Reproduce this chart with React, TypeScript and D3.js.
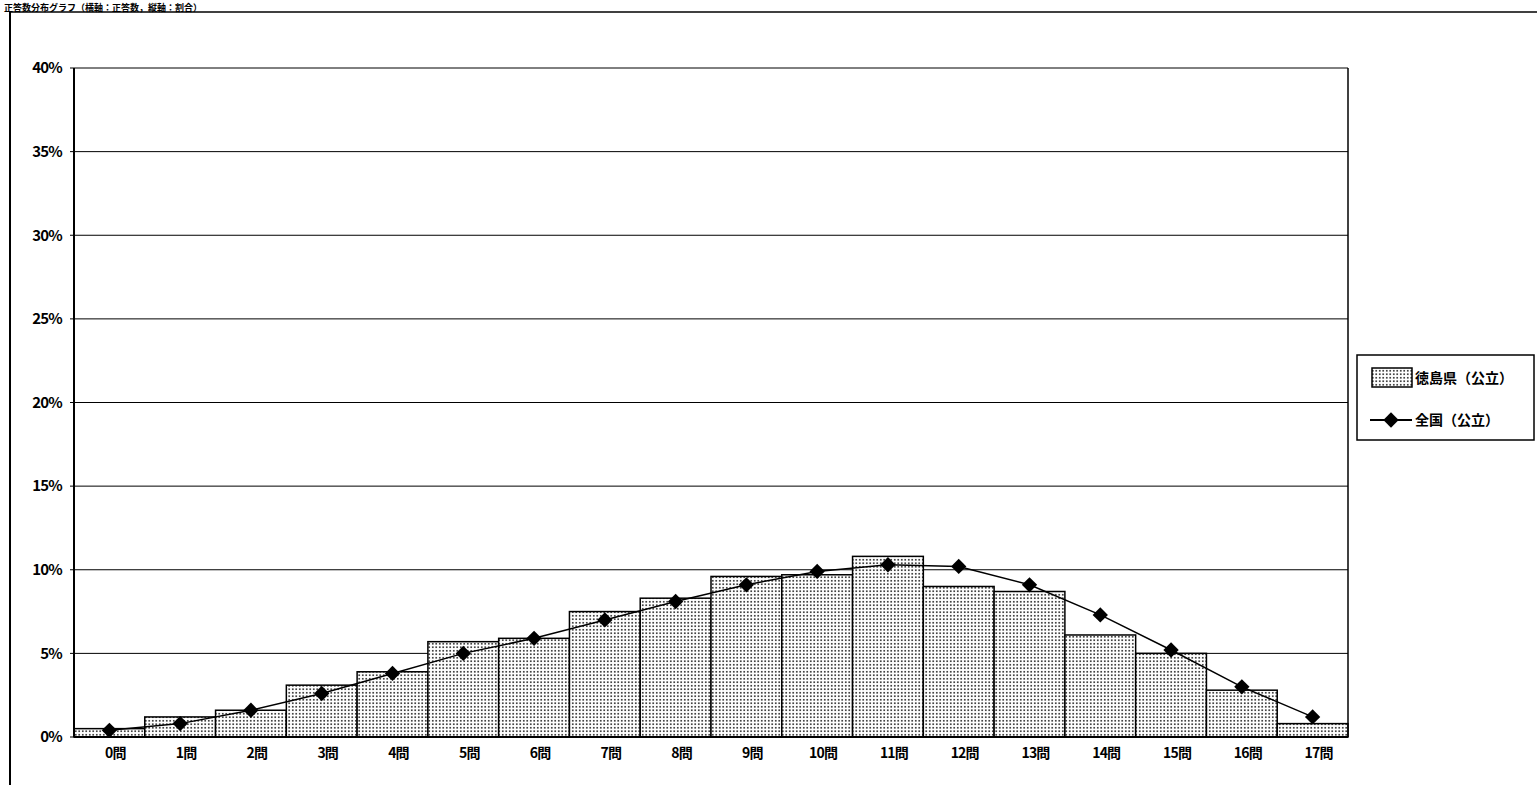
import React from "react";
import * as d3 from "d3";

const categories = ["0問", "1問", "2問", "3問", "4問", "5問", "6問", "7問", "8問", "9問", "10問", "11問", "12問", "13問", "14問", "15問", "16問", "17問"];
const prefValues = [0.5, 1.2, 1.6, 3.1, 3.9, 5.7, 5.9, 7.5, 8.3, 9.6, 9.7, 10.8, 9.0, 8.7, 6.1, 5.0, 2.8, 0.8];
const nationalValues = [0.4, 0.8, 1.6, 2.6, 3.8, 5.0, 5.9, 7.0, 8.1, 9.1, 9.9, 10.3, 10.2, 9.1, 7.3, 5.2, 3.0, 1.2];
const yTicks = [0, 5, 10, 15, 20, 25, 30, 35, 40];
const title = "正答数分布グラフ（横軸：正答数，縦軸：割合）";
const seriesNames = ["徳島県（公立）", "全国（公立）"];

const FONT = "'Noto Sans CJK JP', 'DejaVu Sans', sans-serif";

export default function App() {
  const width = 1537;
  const height = 785;
  const margin = { top: 68, right: 189, bottom: 48, left: 74 };
  const innerWidth = width - margin.left - margin.right;
  const innerHeight = height - margin.top - margin.bottom;

  const xScale = d3.scaleBand().domain(categories).range([0, innerWidth]).padding(0);
  const yScale = d3.scaleLinear().domain([0, 40]).range([innerHeight, 0]);

  const line = d3
    .line<number>()
    .x((_, i) => xScale(categories[i])! + xScale.bandwidth() / 2)
    .y((d) => yScale(d));

  const diamond = d3.symbol().type(d3.symbolDiamond2).size(150)();

  return (
    <svg
      width={width}
      height={height}
      style={{ position: "absolute", left: 0, top: 0, background: "#fff" }}
      fontFamily={FONT}
    >
      <defs>
        <pattern id="dots" width="3.5" height="3.5" patternUnits="userSpaceOnUse">
          <rect width="3.5" height="3.5" fill="#fff" />
          <rect x="1" y="1" width="1.5" height="1.5" fill="#000" />
        </pattern>
      </defs>

      {/* title */}
      <text x={4} y={10.5} fontSize={9} fontWeight="bold" fill="#000">
        {title}
      </text>

      {/* outer chart frame */}
      <line x1={10} x2={width} y1={12} y2={12} stroke="#000" strokeWidth={1.5} />
      <line x1={10} x2={10} y1={12} y2={height} stroke="#000" strokeWidth={2} />

      <g transform={`translate(${margin.left},${margin.top})`}>
        {/* gridlines */}
        {yTicks.map((t) => (
          <g key={t}>
            <line x1={0} x2={innerWidth} y1={yScale(t)} y2={yScale(t)} stroke="#000" strokeWidth={1} />
            <line x1={-4} x2={0} y1={yScale(t)} y2={yScale(t)} stroke="#000" strokeWidth={1} />
            <text
              x={-12}
              y={yScale(t)}
              dy="0.35em"
              textAnchor="end"
              fontSize={15}
              fontWeight="bold"
              letterSpacing={-0.8}
              fill="#000"
            >
              {t}%
            </text>
          </g>
        ))}

        {/* bars */}
        {prefValues.map((v, i) => (
          <rect
            key={i}
            x={xScale(categories[i])}
            y={yScale(v)}
            width={xScale.bandwidth()}
            height={innerHeight - yScale(v)}
            fill="url(#dots)"
            stroke="#000"
            strokeWidth={1.5}
          />
        ))}

        {/* national line */}
        <path d={line(nationalValues) || ""} fill="none" stroke="#000" strokeWidth={1.5} />
        {nationalValues.map((v, i) => (
          <path
            key={i}
            d={diamond || ""}
            transform={`translate(${xScale(categories[i])! + xScale.bandwidth() / 2},${yScale(v)})`}
            fill="#000"
          />
        ))}

        {/* axes */}
        <line x1={0} x2={0} y1={0} y2={innerHeight} stroke="#000" strokeWidth={2} />
        <line x1={innerWidth} x2={innerWidth} y1={0} y2={innerHeight} stroke="#000" strokeWidth={1.5} />
        <line x1={0} x2={innerWidth} y1={innerHeight} y2={innerHeight} stroke="#000" strokeWidth={2} />

        {categories.map((c) => (
          <text
            key={c}
            x={xScale(c)! + xScale.bandwidth() / 2 + 6}
            y={innerHeight + 21}
            textAnchor="middle"
            fontSize={14}
            fontWeight="bold"
            letterSpacing={-0.8}
            fill="#000"
          >
            {c}
          </text>
        ))}
      </g>

      {/* legend */}
      <g transform="translate(1357,355)">
        <rect x={0} y={0} width={177} height={85} fill="#fff" stroke="#000" strokeWidth={1.5} />
        <rect x={15} y={13} width={40} height={19} fill="url(#dots)" stroke="#000" strokeWidth={1.5} />
        <text x={58} y={23} dy="0.35em" fontSize={14} fontWeight="bold" fill="#000">
          {seriesNames[0]}
        </text>
        <line x1={13} x2={55} y1={65} y2={65} stroke="#000" strokeWidth={2} />
        <path d={diamond || ""} transform="translate(34,65)" fill="#000" />
        <text x={58} y={65} dy="0.35em" fontSize={14} fontWeight="bold" fill="#000">
          {seriesNames[1]}
        </text>
      </g>
    </svg>
  );
}
